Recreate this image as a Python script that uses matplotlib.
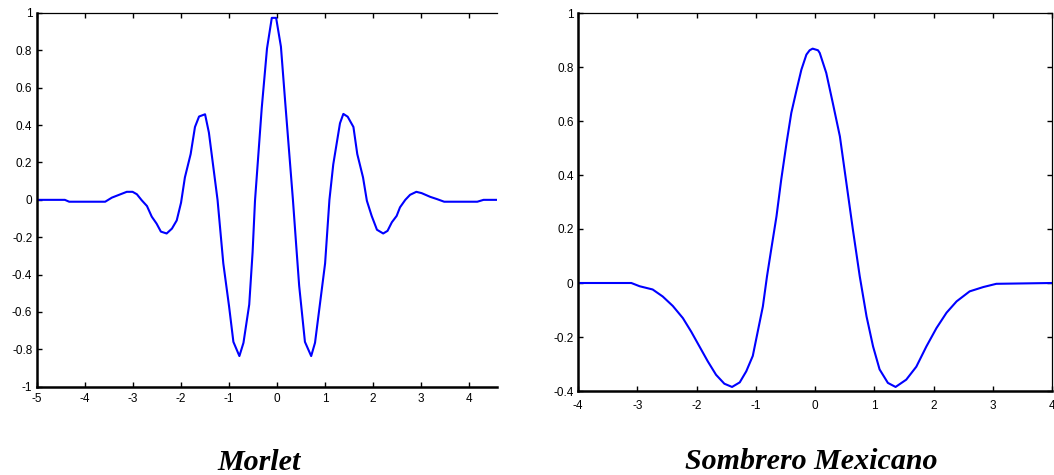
import matplotlib
matplotlib.use("Agg")
import matplotlib.pyplot as plt

# ---- Morlet ----
morlet_x = [-5.0, -4.42, -4.33, -3.58, -3.44, -3.31, -3.13, -3.01, -2.92, -2.82,
            -2.71, -2.61, -2.51, -2.42, -2.30, -2.19, -2.09, -2.00, -1.92, -1.80,
            -1.71, -1.625, -1.50, -1.42, -1.24, -1.12, -1.00, -0.91, -0.785, -0.70,
            -0.58, -0.51, -0.46, -0.32, -0.21, -0.11, -0.02, 0.08, 0.17, 0.33,
            0.40, 0.46, 0.58, 0.71, 0.79, 1.00, 1.09, 1.17, 1.31, 1.38,
            1.47, 1.59, 1.67, 1.79, 1.87, 1.97, 2.08, 2.21, 2.30, 2.39,
            2.49, 2.56, 2.67, 2.77, 2.90, 3.01, 3.19, 3.33, 3.48, 4.17,
            4.30, 4.58]
morlet_y = [0.0, 0.0, -0.01, -0.01, 0.012, 0.025, 0.043, 0.043, 0.03, -0.002,
            -0.033, -0.09, -0.127, -0.17, -0.18, -0.154, -0.11, -0.015, 0.12, 0.245,
            0.39, 0.446, 0.458, 0.36, 0.0, -0.34, -0.57, -0.76, -0.836, -0.765,
            -0.56, -0.28, -0.005, 0.49, 0.81, 0.974, 0.974, 0.82, 0.52, 0.0,
            -0.25, -0.46, -0.76, -0.836, -0.765, -0.34, 0.0, 0.19, 0.41, 0.46,
            0.445, 0.39, 0.245, 0.12, -0.005, -0.086, -0.16, -0.18, -0.166, -0.12,
            -0.086, -0.04, 0.0, 0.027, 0.043, 0.036, 0.016, 0.004, -0.01, -0.01,
            0.0, 0.0]

# ---- Sombrero Mexicano ----
hat_x = [-4.0, -3.10, -2.96, -2.74, -2.57, -2.40, -2.23, -2.09, -1.95, -1.81,
         -1.67, -1.53, -1.40, -1.27, -1.16, -1.05, -0.96, -0.88, -0.81, -0.74,
         -0.65, -0.57, -0.48, -0.40, -0.31, -0.23, -0.145, -0.09, -0.04, 0.05, 0.08, 0.19,
         0.30, 0.42, 0.53, 0.64, 0.755, 0.87, 0.98, 1.09, 1.23, 1.36,
         1.54, 1.71, 1.88, 2.05, 2.22, 2.39, 2.61, 2.84, 3.06, 4.0]
hat_y = [0.0, 0.0, -0.012, -0.024, -0.05, -0.085, -0.13, -0.18, -0.235, -0.29,
         -0.34, -0.373, -0.385, -0.368, -0.327, -0.27, -0.173, -0.087, 0.025, 0.123,
         0.247, 0.383, 0.519, 0.63, 0.716, 0.79, 0.846, 0.862, 0.868, 0.862, 0.852, 0.778,
         0.667, 0.543, 0.37, 0.197, 0.025, -0.124, -0.235, -0.32, -0.37, -0.385,
         -0.358, -0.31, -0.235, -0.167, -0.11, -0.068, -0.031, -0.015, -0.003, 0.0]

morlet_xticks = [-5, -4, -3, -2, -1, 0, 1, 2, 3, 4]
morlet_yticks = [-1, -0.8, -0.6, -0.4, -0.2, 0, 0.2, 0.4, 0.6, 0.8, 1]
morlet_yticklabels = ["-1", "-0.8", "-0.6", "-0.4", "-0.2", "0", "0.2", "0.4", "0.6", "0.8", "1"]
hat_xticks = [-4, -3, -2, -1, 0, 1, 2, 3, 4]
hat_yticks = [-0.4, -0.2, 0, 0.2, 0.4, 0.6, 0.8, 1]
hat_yticklabels = ["-0.4", "-0.2", "0", "0.2", "0.4", "0.6", "0.8", "1"]
titles = ["Morlet", "Sombrero Mexicano"]

W, H = 1054, 475
fig = plt.figure(figsize=(W / 100, H / 100), dpi=100)

def px_axes(l, r, t, b):
    return fig.add_axes([l / W, 1 - b / H, (r - l) / W, (b - t) / H])

blue = (0, 0, 1)

def style(ax, right_spine, xpad, ypad):
    for s in ["left", "bottom"]:
        ax.spines[s].set_linewidth(1.8)
    ax.spines["top"].set_linewidth(0.9)
    if right_spine:
        ax.spines["right"].set_linewidth(0.9)
    else:
        ax.spines["right"].set_visible(False)
    ax.tick_params(direction="in", length=3.5, width=1.0, top=True,
                   right=right_spine, labelsize=8.5)
    ax.tick_params(axis="x", pad=xpad)
    ax.tick_params(axis="y", pad=ypad)
    for lab in ax.get_xticklabels() + ax.get_yticklabels():
        lab.set_fontfamily("Liberation Sans")

# Left: Morlet
ax1 = px_axes(37, 497, 13, 386.7)
ax1.plot(morlet_x, morlet_y, color=blue, lw=1.5)
ax1.set_xlim(-5, 4.58)
ax1.set_ylim(-1, 1)
ax1.set_xticks(morlet_xticks)
ax1.set_xticklabels([str(v) for v in morlet_xticks])
ax1.set_yticks(morlet_yticks)
ax1.set_yticklabels(morlet_yticklabels)
style(ax1, False, 4.8, 3.4)

# Right: Sombrero Mexicano
ax2 = px_axes(578, 1052, 13, 391)
ax2.plot(hat_x, hat_y, color=blue, lw=1.5)
ax2.set_xlim(-4, 4)
ax2.set_ylim(-0.4, 1)
ax2.set_xticks(hat_xticks)
ax2.set_xticklabels([str(v) for v in hat_xticks])
ax2.set_yticks(hat_yticks)
ax2.set_yticklabels(hat_yticklabels)
style(ax2, True, 6.5, 3.2)

title_font = dict(family="Liberation Serif", weight="bold", style="italic", size=21.6)
fig.text(259.5 / W, 1 - 470 / H, titles[0], ha="center", va="baseline", **title_font)
fig.text(811 / W, 1 - 469 / H, titles[1], ha="center", va="baseline", **title_font)

fig.savefig("out.png", dpi=100)
